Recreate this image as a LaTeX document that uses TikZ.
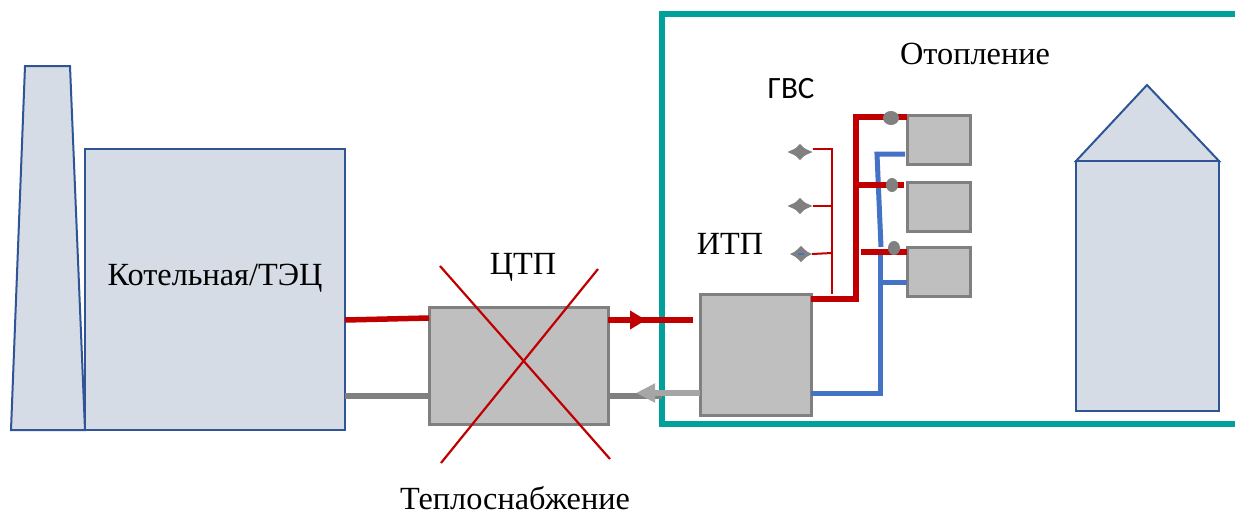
\documentclass[tikz,border=0pt]{standalone}
\usepackage{fontspec}
\setmainfont{Liberation Serif}
\newfontfamily\gvsfont{Carlito}
\usetikzlibrary{arrows.meta,shapes.geometric,positioning}
\definecolor{fillblue}{HTML}{D6DCE5}
\definecolor{edgeblue}{HTML}{2F5597}
\definecolor{boxgrey}{HTML}{BFBFBF}
\definecolor{edgegrey}{HTML}{808080}
\definecolor{lightgrey}{HTML}{A6A6A6}
\definecolor{hotred}{HTML}{C00000}
\definecolor{coldblue}{HTML}{4472C4}
\definecolor{frameteal}{HTML}{00A19A}
\tikzset{
  plant/.style={draw=edgeblue,fill=fillblue,line width=2pt},
  unitbox/.style={draw=edgegrey,fill=boxgrey,line width=3pt,inner sep=0pt,outer sep=0pt,anchor=north west},
  label/.style={font=\fontsize{32.3}{36}\selectfont,inner sep=0pt},
  hot/.style={draw=hotred,line width=5.5pt},
  cold/.style={draw=coldblue,line width=5pt},
  ret/.style={draw=edgegrey,line width=5.5pt},
  thinhot/.style={draw=hotred,line width=2pt},
  cross/.style={draw=hotred,line width=2.2pt},
  valve/.style={ellipse,fill=edgegrey,inner sep=0pt,outer sep=0pt},
  tap/.style={diamond,fill=edgegrey,inner sep=0pt,outer sep=0pt,minimum width=25pt,minimum height=11pt},
  tapcore/.style={diamond,fill=edgegrey,inner sep=0pt,outer sep=0pt,minimum width=17pt,minimum height=16pt}
}
\begin{document}
\begin{tikzpicture}[x=1pt,y=-1pt]
\useasboundingbox (0,0) rectangle (1235,515);
% frame
\draw[frameteal,line width=5.5pt] (1245,14) -- (662,14) -- (662,424) -- (1245,424);
% plant
\draw[plant] (25,66) -- (70,66) -- (85,430) -- (11,430) -- cycle;
\node[plant,inner sep=0pt,outer sep=0pt,anchor=north west,minimum width=260pt,minimum height=281pt] (boiler) at (85,149) {};
% house
\draw[plant] (1076,161) -- (1147,85) -- (1219,161) -- cycle;
\node[plant,inner sep=0pt,outer sep=0pt,anchor=north west,minimum width=143pt,minimum height=250pt] (house) at (1076,161) {};
% boxes
\node[unitbox,minimum width=179pt,minimum height=117pt] (ctp) at (429,307) {};
\node[unitbox,minimum width=111pt,minimum height=121pt] (itp) at (700,294) {};
\node[unitbox,minimum width=63pt,minimum height=49pt] (radA) at (907,115) {};
\node[unitbox,minimum width=63pt,minimum height=49pt] (radB) at (907,182) {};
\node[unitbox,minimum width=63pt,minimum height=49pt] (radC) at (907,247) {};
% coordinates
\coordinate (ctpInEnd) at (693,320);
\coordinate (tipR) at (646,320);
\coordinate (tipG) at (636,393);
\coordinate (retEnd) at (662,396);
\coordinate (riserB) at (856,117);
\coordinate (riserA) at (856,299);
\coordinate (stubB) at (904,185);
\coordinate (branchB) at (856,185);
\coordinate (branchC) at (861,252);
\coordinate (blueA) at (880,393);
\coordinate (blueB) at (880,255);
\coordinate (blueC) at (881,247);
\coordinate (blueD) at (877,154);
\coordinate (blueE) at (905,154);
\coordinate (blueF) at (880,282);
\coordinate (thinT) at (832,149);
\coordinate (thinM) at (832,206);
\coordinate (thinL) at (832,253);
\coordinate (thinE) at (832,294);
% plant links
\draw[hot] (boiler.east |- 0,320) -- (ctp.west |- 0,318);
\draw[ret] (boiler.east |- 0,396) -- (ctp.west |- 0,396);
\draw[hot] (ctp.east |- 0,320) -- (ctpInEnd);
\draw[hot,-{Triangle[length=16pt,width=18pt,fill=hotred]}] (ctp.east |- 0,320) -- (tipR);
\draw[ret] (ctp.east |- 0,396) -- (retEnd);
\draw[draw=lightgrey,line width=5.5pt,-{Triangle[length=19pt,width=18pt,fill=lightgrey]}] (itp.west |- 0,393) -- (tipG);
% blue
\draw[cold,line join=miter] (itp.east |- 0,393) -- (blueA) -- (blueB);
\draw[cold] (blueC) -- (blueD) -- (blueE);
\draw[cold] (blueF) -- (radC.west |- 0,282);
% red
\draw[hot,line join=miter] (itp.east |- 0,299) -- (riserA) -- (riserB) -- (radA.west |- 0,117);
\draw[hot] (branchB) -- (stubB);
\draw[hot] (branchC) -- (radC.west |- 0,252);
% valves
\node[valve,minimum width=16pt,minimum height=14pt] (valveA) at (891,118) {};
\node[valve,minimum width=12pt,minimum height=14pt] (valveB) at (892,185) {};
\node[valve,minimum width=12pt,minimum height=14pt] (valveC) at (894,248) {};
% taps
\node[tap] (tapA) at (800,152) {};
\node[tapcore] at (tapA) {};
\node[tap] (tapB) at (800,206) {};
\node[tapcore] at (tapB) {};
\node[tap,minimum width=22pt] (tapC) at (801,254) {};
\node[tapcore] at (tapC) {};
\draw[coldblue,line width=1.5pt] (798,254) -- (804,254);
\draw[thinhot] (tapA.east |- thinT) -- (thinT) -- (thinE);
\draw[thinhot] (tapB.east) -- (thinM);
\draw[thinhot] (tapC.east) -- (thinL);
% cross
\coordinate (xA) at (440,266);
\coordinate (xB) at (610,459);
\coordinate (xC) at (598,269);
\coordinate (xD) at (441,463);
\draw[cross] (xA) -- (xB);
\draw[cross] (xC) -- (xD);
% labels
\node[label] (lblBoiler) at (215,278) {Котельная/ТЭЦ};
\node[label] (lblCtp) at (523,267) {ЦТП};
\node[label] (lblHeatSupply) at (515,498) {Теплоснабжение};
\node[label] (lblHeating) at (975,54) {Отопление};
\node[label] (lblItp) at (730,244) {ИТП};
\node[label,font=\gvsfont\fontsize{31}{35}\selectfont] (lblGvs) at (791,89) {ГВС};
\end{tikzpicture}
\end{document}
